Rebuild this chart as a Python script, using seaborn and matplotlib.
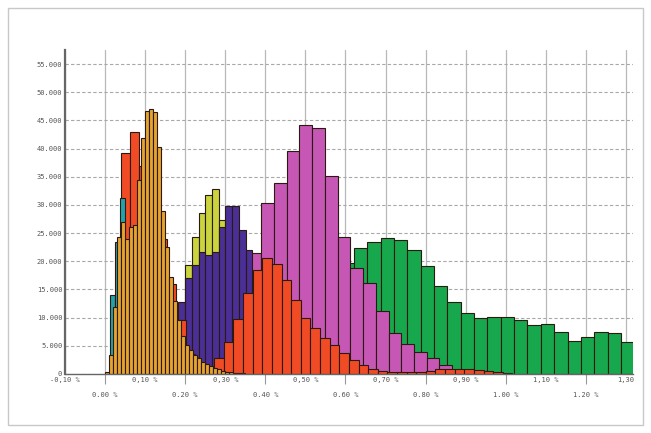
import numpy as np
import pandas as pd
import matplotlib
matplotlib.use("Agg")
import matplotlib.pyplot as plt
from matplotlib.ticker import FuncFormatter, FixedLocator
from matplotlib.patches import Rectangle
import seaborn as sns

# Each series: first bin edge (%), bin width (%), counts per bin.
green_start, green_width = 0.4875, 0.03333
green_counts = [4000, 8000, 14000, 19700, 22300, 23500, 24100, 23700, 22000, 19200,
                15600, 12800, 10900, 10000, 10100, 10200, 9600, 8700, 8900, 7500,
                5900, 6500, 7400, 7200, 5700]

magenta_start, magenta_width = 0.294, 0.0318
magenta_counts = [6000, 14000, 21400, 30300, 33900, 39600, 44200, 43600, 35100, 24300,
                  18800, 16100, 11100, 7300, 5300, 3900, 2800, 1600, 600]

lime_start, lime_width = 0.18325, 0.01675
lime_counts = [12000, 19300, 24400, 28500, 31800, 32900, 27300, 20000, 12000, 6000]

purple_start, purple_width = 0.18325, 0.01675
purple_counts = [12800, 17000, 19300, 21700, 21200, 21700, 26100, 29800, 29800, 25500,
                 22000, 16000, 10000, 5000]

red2_start, red2_width = 0.2485, 0.024
red2_counts = [1000, 2800, 5700, 9700, 14300, 18500, 20500, 19500, 16700, 13100,
               9900, 8100, 6400, 5100, 3800, 2500, 1600, 900, 500, 400,
               300, 300, 400, 600, 800, 900, 900, 800, 700, 500, 300, 150]

red1_start, red1_width = 0.0155, 0.02325
red1_counts = [10000, 39300, 43000, 36900, 32000, 24000, 16000, 9600, 3500]

cyan_start, cyan_width = 0.0125, 0.0125
cyan_counts = [14000, 23500, 31200, 20000, 12000, 5000, 1500]

orange_start, orange_width = 0.0, 0.01
orange_counts = [400, 3400, 11900, 24400, 27000, 23900, 26100, 26500, 34400, 41800,
                 46700, 47000, 46500, 40300, 29000, 22600, 17300, 13000, 9600, 6800,
                 5200, 4200, 3400, 2800, 2200, 1800, 1400, 1100, 800, 600,
                 400, 300, 200, 150, 100]

upper_labels = ["-0,10 %", "0,10 %", "0,30 %", "0,50 %", "0,70 %", "0,90 %", "1,10 %", "1,30"]
upper_pos = [-0.10, 0.10, 0.30, 0.50, 0.70, 0.90, 1.10, 1.30]
lower_labels = ["0.00 %", "0.20 %", "0.40 %", "0.60 %", "0.80 %", "1.00 %", "1.20 %"]
lower_pos = [0.00, 0.20, 0.40, 0.60, 0.80, 1.00, 1.20]

series = [
    (green_start, green_width, green_counts, "#17A84D"),
    (magenta_start, magenta_width, magenta_counts, "#C657B4"),
    (lime_start, lime_width, lime_counts, "#C9D43F"),
    (purple_start, purple_width, purple_counts, "#4A2F97"),
    (red2_start, red2_width, red2_counts, "#F04B25"),
    (red1_start, red1_width, red1_counts, "#F04B25"),
    (cyan_start, cyan_width, cyan_counts, "#21A3AE"),
    (orange_start, orange_width, orange_counts, "#E7A32F"),
]

sns.set_style("white")
plt.rcParams["font.family"] = ["DejaVu Sans Mono", "DejaVu Sans"]

fig = plt.figure(figsize=(6.51, 4.33), dpi=100)
ax = fig.add_axes([65 / 651, 1 - 374 / 433, (633 - 65) / 651, (374 - 50) / 433])

for start, width, counts, color in series:
    n = len(counts)
    edges = [float(e) for e in start + width * np.arange(n + 1)]
    frame = pd.DataFrame({
        "value": start + width * (np.arange(n) + 0.5),
        "count": np.asarray(counts, dtype=float),
    })
    sns.histplot(data=frame, x="value", weights="count", bins=edges, color=color,
                 alpha=1, edgecolor="#2b1a12", linewidth=0.8, ax=ax)

ax.set_xlim(-0.10, 1.3175)
ax.set_ylim(0, 57500)
ax.set_xlabel("")
ax.set_ylabel("")

ax.set_axisbelow(True)
ax.yaxis.set_major_locator(FixedLocator(np.arange(0, 55001, 5000)))
ax.yaxis.set_major_formatter(FuncFormatter(lambda v, p: f"{int(v):,}".replace(",", ".")))
ax.xaxis.set_major_locator(FixedLocator(lower_pos))
ax.xaxis.set_minor_locator(FixedLocator(upper_pos))
ax.set_xticklabels(lower_labels)
ax.set_xticklabels(upper_labels, minor=True)

ax.tick_params(axis="x", which="major", length=7, width=0.8, color="#999999",
               pad=6, labelsize=5, labelcolor="#555555", direction="out", bottom=True)
ax.tick_params(axis="x", which="minor", length=0, pad=2.5, labelsize=5,
               labelcolor="#555555", bottom=True)
ax.tick_params(axis="y", length=0, pad=2, labelsize=5, labelcolor="#555555")

ax.grid(axis="x", which="both", color="#b8b8b8", linewidth=0.9, linestyle="-")
ax.grid(axis="y", which="major", color="#a8a8a8", linewidth=0.8, linestyle=(0, (3, 2)))

for side in ("top", "right"):
    ax.spines[side].set_visible(False)
ax.spines["left"].set_color("#666666")
ax.spines["left"].set_linewidth(1.6)
ax.spines["bottom"].set_color("#666666")
ax.spines["bottom"].set_linewidth(1.0)

fig.add_artist(Rectangle((8 / 651, 8 / 433), 635 / 651, 417 / 433,
                         transform=fig.transFigure, fill=False,
                         edgecolor="#c8c8c8", linewidth=1))

fig.savefig("out.png", dpi=100)
